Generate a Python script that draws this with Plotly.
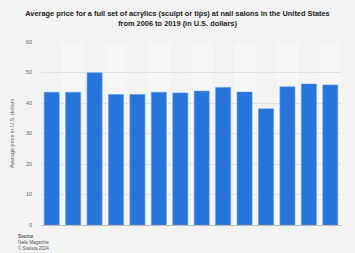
import plotly.graph_objects as go

years = ["2006", "2007", "2008", "2009", "2010", "2011", "2012", "2013",
         "2014", "2015", "2016", "2017", "2018", "2019"]
prices = [43.5, 43.5, 49.9, 42.8, 42.8, 43.5, 43.3, 43.9, 45.1, 43.6, 38.1, 45.3, 46.2, 45.9]
y_ticks = [0, 10, 20, 30, 40, 50, 60]

title_text = ("<b>Average price for a full set of acrylics (sculpt or tips) at nail salons in the United States"
              "<br>from 2006 to 2019 (in U.S. dollars)</b>")
y_title = "Average price in U.S. dollars"
source_text = "<b>Source</b><br>Nails Magazine<br>© Statista 2024"

fig = go.Figure()
fig.add_trace(go.Bar(
    x=list(range(len(years))), y=prices,
    marker=dict(color="#2775db", line=dict(color="#5b97e6", width=0.6)),
    hovertext=years,
))

shapes = []
for i in range(len(years)):
    if i % 2 == 1:
        shapes.append(dict(type="rect", xref="x", yref="paper", x0=i - 0.5, x1=i + 0.5,
                           y0=0, y1=1, fillcolor="#f7f7f7", line=dict(width=0), layer="below"))

fig.update_layout(
    width=355, height=253,
    margin=dict(l=37, r=14, t=42, b=28),
    paper_bgcolor="#f3f3f3", plot_bgcolor="#f3f3f3",
    font=dict(family="Liberation Sans, Arial, sans-serif", color="#666"),
    title=dict(text=title_text, x=0.5, xanchor="center", y=0.935, yanchor="top",
               font=dict(size=7.4, color="#222", family="Liberation Sans, Arial, sans-serif")),
    bargap=0.3,
    shapes=shapes,
    showlegend=False,
    xaxis=dict(showticklabels=False, showgrid=False, zeroline=False,
               range=[-0.5, len(years) - 0.5], showline=True, linecolor="#bbbbbb", linewidth=1,
               ticks=""),
    yaxis=dict(range=[0, 60], tickvals=y_ticks, ticktext=[str(v) for v in y_ticks],
               tickfont=dict(size=5.5, color="#666"), showgrid=True, gridcolor="#e2e2e2",
               gridwidth=0.8, zeroline=False, ticks="", ticklabelstandoff=8,
               title=dict(text=y_title, font=dict(size=5.5, color="#666"), standoff=10)),
    annotations=[dict(text=source_text, xref="paper", yref="paper", x=0.0, y=-0.04,
                      xanchor="left", yanchor="top", showarrow=False, align="left",
                      xshift=-25, font=dict(size=4.5, color="#555"))],
)

fig.write_html("out.html")
